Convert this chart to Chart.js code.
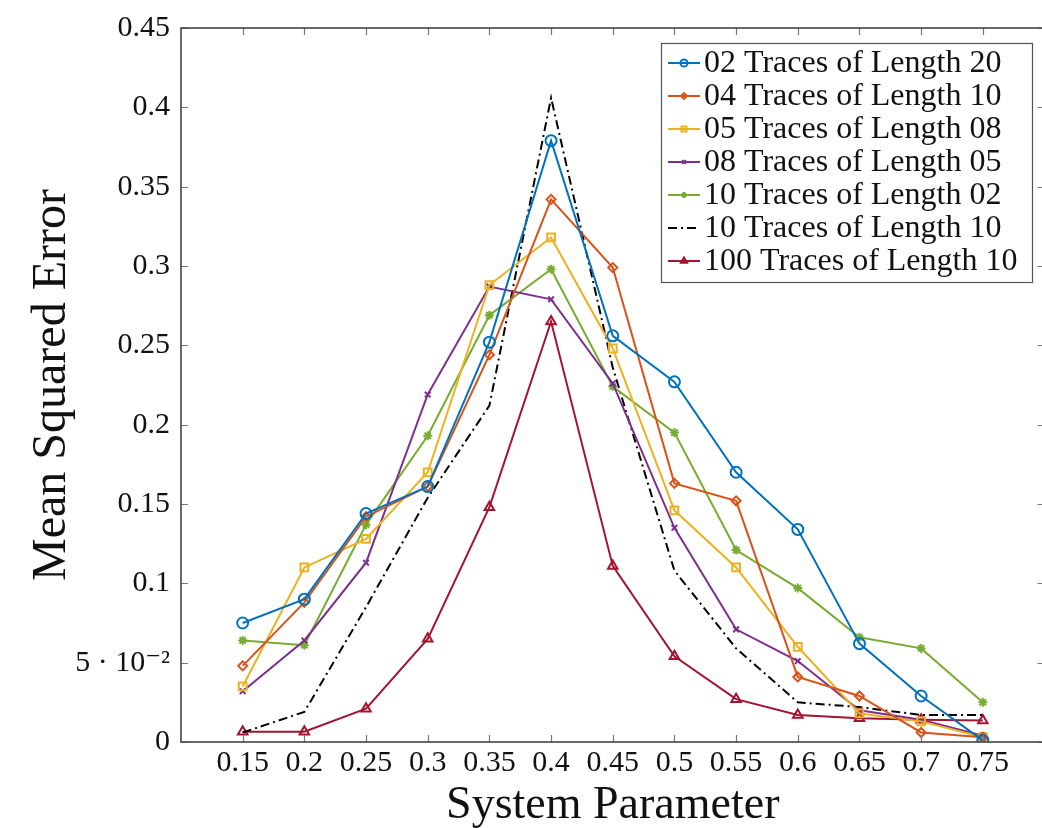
<!DOCTYPE html>
<html lang="en">
<head>
    <meta charset="UTF-8">
    <title>Mean Squared Error vs System Parameter</title>
    <script src="https://cdn.jsdelivr.net/npm/chart.js@4/dist/chart.umd.min.js"></script>
    <style>
        html, body { margin: 0; padding: 0; background: #fff; overflow: hidden; }
        #wrap { width: 1052px; height: 828px; }
    </style>
</head>
<body>
<div id="wrap"><canvas id="mseChart" width="1052" height="828"></canvas></div>

<script>
    // x positions (system parameter)
    const xValues = [0.15, 0.2, 0.25, 0.3, 0.35, 0.4, 0.45, 0.5, 0.55, 0.6, 0.65, 0.7, 0.75];
    const xTicks = [0.15, 0.2, 0.25, 0.3, 0.35, 0.4, 0.45, 0.5, 0.55, 0.6, 0.65, 0.7, 0.75];
    const yTicks = [0, 0.05, 0.1, 0.15, 0.2, 0.25, 0.3, 0.35, 0.4, 0.45];

    // series values
    const traces02len20 = [0.075, 0.090, 0.144, 0.161, 0.252, 0.379, 0.256, 0.227, 0.170, 0.134, 0.062, 0.029, 0.001];
    const traces04len10 = [0.048, 0.088, 0.142, 0.161, 0.244, 0.342, 0.299, 0.163, 0.152, 0.041, 0.029, 0.006, 0.003];
    const traces05len08 = [0.035, 0.110, 0.128, 0.170, 0.288, 0.318, 0.248, 0.146, 0.110, 0.060, 0.018, 0.013, 0.003];
    const traces08len05 = [0.032, 0.064, 0.113, 0.219, 0.287, 0.279, 0.226, 0.135, 0.071, 0.051, 0.020, 0.014, 0.004];
    const traces10len02 = [0.064, 0.061, 0.137, 0.193, 0.269, 0.298, 0.224, 0.195, 0.121, 0.097, 0.066, 0.059, 0.025];
    const traces10len10 = [0.006, 0.019, 0.085, 0.154, 0.212, 0.406, 0.236, 0.108, 0.059, 0.025, 0.022, 0.017, 0.017];
    const traces100len10 = [0.0065, 0.0065, 0.021, 0.065, 0.148, 0.265, 0.111, 0.054, 0.027, 0.017, 0.015, 0.014, 0.0135];

    const seriesLabels = [
        '02 Traces of Length 20',
        '04 Traces of Length 10',
        '05 Traces of Length 08',
        '08 Traces of Length 05',
        '10 Traces of Length 02',
        '10 Traces of Length 10',
        '100 Traces of Length 10'
    ];

    const serif = "'Liberation Serif', 'DejaVu Serif', serif";

    function toPoints(arr) {
        return xValues.map((x, i) => ({ x: x, y: arr[i] }));
    }

    function makeSet(label, arr, color, style, radius, dash) {
        return {
            label: label,
            data: toPoints(arr),
            borderColor: color,
            backgroundColor: 'rgba(0,0,0,0)',
            borderWidth: 2,
            borderDash: dash || [],
            pointStyle: style,
            pointRadius: radius,
            pointBorderColor: color,
            pointBackgroundColor: 'rgba(0,0,0,0)',
            pointBorderWidth: 2,
            tension: 0,
            fill: false
        };
    }

    const datasets = [
        makeSet(seriesLabels[0], traces02len20, '#0072BD', 'circle', 5.5),
        makeSet(seriesLabels[1], traces04len10, '#D95319', 'rectRot', 4.5),
        makeSet(seriesLabels[2], traces05len08, '#EDB120', 'rect', 5.5),
        makeSet(seriesLabels[3], traces08len05, '#7E2F8E', 'crossRot', 4),
        makeSet(seriesLabels[4], traces10len02, '#77AC30', 'star', 4.5),
        makeSet(seriesLabels[5], traces10len10, '#000000', false, 0, [9, 4, 2, 4]),
        makeSet(seriesLabels[6], traces100len10, '#A2142F', 'triangle', 5.5)
    ];

    // frame with inward ticks on all four sides (pgfplots look)
    const framePlugin = {
        id: 'frame',
        afterDraw(chart) {
            const ctx = chart.ctx;
            const a = chart.chartArea;
            const xs = chart.scales.x, ys = chart.scales.y;
            ctx.save();
            ctx.strokeStyle = '#777';
            ctx.lineWidth = 1.2;
            ctx.beginPath();
            xTicks.forEach(v => {
                const px = Math.round(xs.getPixelForValue(v)) + 0.5;
                ctx.moveTo(px, a.bottom); ctx.lineTo(px, a.bottom - 7);
                ctx.moveTo(px, a.top); ctx.lineTo(px, a.top + 7);
            });
            yTicks.forEach(v => {
                const py = Math.round(ys.getPixelForValue(v)) + 0.5;
                ctx.moveTo(a.left, py); ctx.lineTo(a.left + 7, py);
                ctx.moveTo(a.right, py); ctx.lineTo(a.right - 7, py);
            });
            ctx.stroke();
            ctx.strokeStyle = '#444';
            ctx.lineWidth = 1.6;
            ctx.strokeRect(a.left, a.top, a.right - a.left, a.bottom - a.top);
            ctx.restore();
        }
    };

    // legend box inside the plot, top right
    const boxLegend = {
        id: 'boxLegend',
        afterDraw(chart) {
            const ctx = chart.ctx;
            const left = 661, top = 43, w = 371, h = 239, rowH = 33;
            ctx.save();
            ctx.fillStyle = '#fff';
            ctx.fillRect(left, top, w, h);
            ctx.strokeStyle = '#555';
            ctx.lineWidth = 1.2;
            ctx.strokeRect(left + 0.5, top + 0.5, w, h);
            ctx.font = '32px ' + serif;
            ctx.textBaseline = 'middle';
            chart.data.datasets.forEach((ds, i) => {
                const cy = top + 20 + i * rowH;
                ctx.strokeStyle = ds.borderColor;
                ctx.lineWidth = 2;
                ctx.setLineDash(ds.borderDash);
                ctx.beginPath();
                ctx.moveTo(668, cy); ctx.lineTo(700, cy);
                ctx.stroke();
                ctx.setLineDash([]);
                if (ds.pointStyle) {
                    ctx.fillStyle = 'rgba(0,0,0,0)';
                    Chart.helpers.drawPoint(ctx, {
                        pointStyle: ds.pointStyle,
                        radius: ds.pointRadius * 0.65,
                        borderWidth: 1.5,
                        rotation: 0
                    }, 684, cy);
                }
                ctx.fillStyle = '#111';
                ctx.fillText(ds.label, 704, cy + 1);
            });
            ctx.restore();
        }
    };

    new Chart(document.getElementById('mseChart'), {
        type: 'line',
        data: { datasets: datasets },
        options: {
            responsive: false,
            animation: false,
            layout: { padding: { left: 0, right: 3, top: 28, bottom: 0 } },
            plugins: {
                legend: { display: false },
                tooltip: { enabled: false }
            },
            scales: {
                x: {
                    type: 'linear',
                    min: 0.1,
                    max: 0.8,
                    grid: { display: false, drawTicks: false },
                    border: { display: false },
                    afterBuildTicks: axis => { axis.ticks = xTicks.map(v => ({ value: v })); },
                    afterFit: s => { s.height = 86; },
                    ticks: {
                        color: '#111',
                        padding: 3,
                        maxRotation: 0,
                        autoSkip: false,
                        font: { family: serif, size: 30 },
                        callback: v => String(+v.toFixed(2))
                    },
                    title: {
                        display: true,
                        text: 'System Parameter',
                        color: '#111',
                        padding: { top: 0, bottom: -6 },
                        font: { family: serif, size: 46 }
                    }
                },
                y: {
                    min: 0,
                    max: 0.45,
                    grid: { display: false },
                    border: { display: false },
                    afterBuildTicks: axis => { axis.ticks = yTicks.map(v => ({ value: v })); },
                    afterFit: s => { s.width = 181; },
                    ticks: {
                        color: '#111',
                        padding: 3,
                        font: { family: serif, size: 30 },
                        callback: v => {
                            if (v === 0) return '0';
                            if (Math.abs(v - 0.05) < 1e-9) return '5 \u00b7 10\u207b\u00b2';
                            return String(+v.toFixed(2));
                        }
                    },
                    title: {
                        display: true,
                        text: 'Mean Squared Error',
                        color: '#111',
                        padding: { top: 24, bottom: 0 },
                        font: { family: serif, size: 48 }
                    }
                }
            }
        },
        plugins: [framePlugin, boxLegend]
    });
</script>
</body>
</html>
